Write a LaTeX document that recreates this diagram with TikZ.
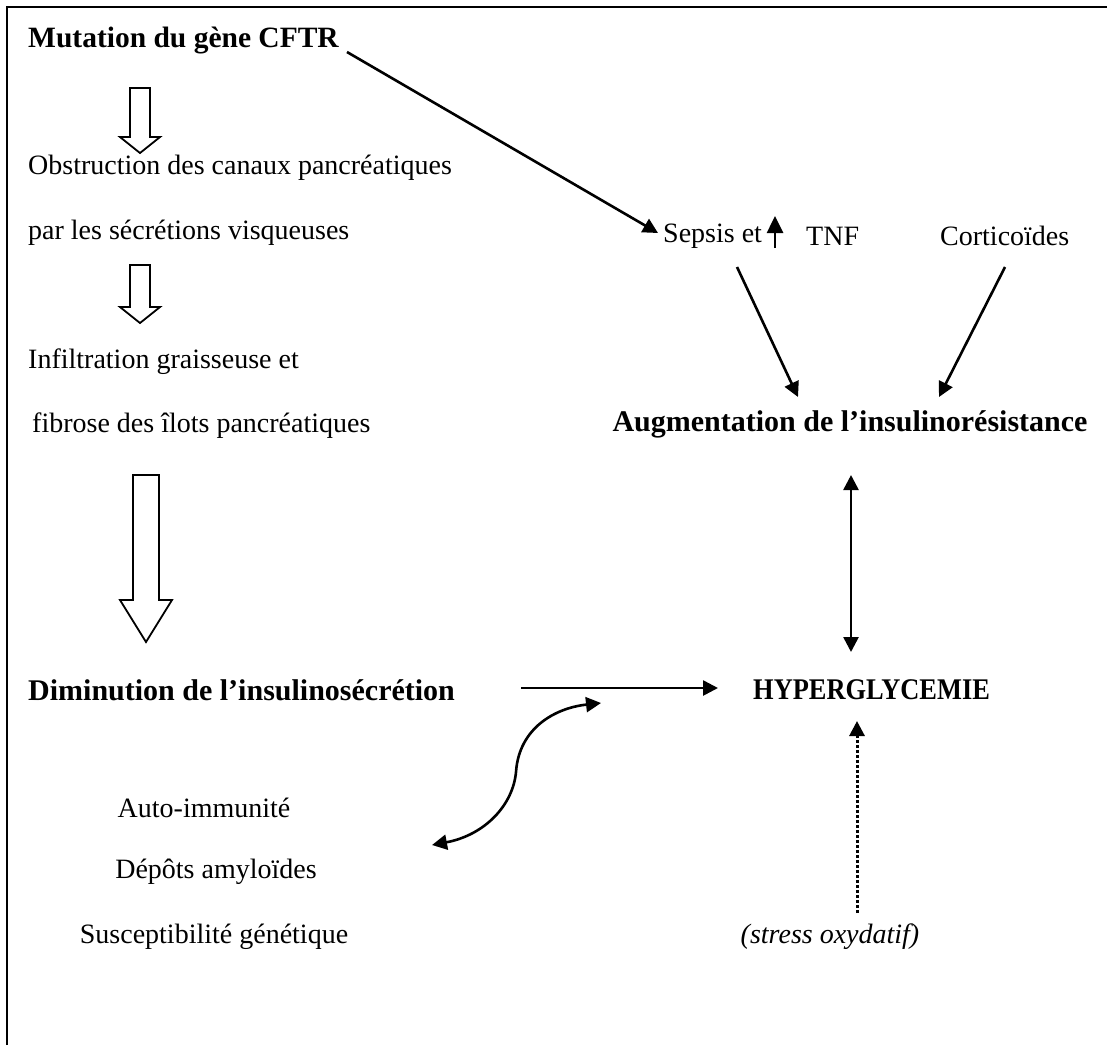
\documentclass[tikz,border=0pt]{standalone}
\usepackage{fontspec}
\setmainfont{Liberation Serif}
\usetikzlibrary{arrows.meta}
\begin{document}
\begin{tikzpicture}[x=1pt,y=-1pt,
  txt/.style={inner sep=0pt,font=\fontsize{28}{32}\selectfont},
  btxt/.style={inner sep=0pt,font=\fontsize{30}{34}\selectfont\bfseries},
  conn/.style={line width=2.6pt,-{Triangle[length=15pt,width=15pt]}},
  dconn/.style={line width=2.6pt,{Triangle[length=15pt,width=15pt]}-{Triangle[length=15pt,width=15pt]}},
  hollow/.style={draw,line width=1.8pt,fill=white,line join=miter}]
\useasboundingbox (0,0) rectangle (1107,1045);
\draw[line width=2.2pt] (7,1045) -- (7,7) -- (1107,7);

% left column
\node[btxt,anchor=west,font=\fontsize{29.5}{34}\selectfont\bfseries] (cftr) at (28,41) {Mutation du gène CFTR};
\node[txt,anchor=west] (obs1) at (28,168) {Obstruction des canaux pancréatiques};
\node[txt,anchor=west] (obs2) at (28,233) {par les sécrétions visqueuses};
\node[txt,anchor=west] (inf1) at (28,362) {Infiltration graisseuse et};
\node[txt,anchor=west] (inf2) at (32,426) {fibrose des îlots pancréatiques};
\node[btxt,anchor=west] (dim) at (28,690) {Diminution de l’insulinosécrétion};

% hollow arrows
\draw[hollow] (130,88) -- (150,88) -- (150,137) -- (160,137) -- (140,153) -- (120,137) -- (130,137) -- cycle;
\draw[hollow] (130,265) -- (150,265) -- (150,307) -- (160,307) -- (140,323) -- (120,307) -- (130,307) -- cycle;
\draw[hollow] (133,475) -- (159,475) -- (159,600) -- (172,600) -- (146,642) -- (120,600) -- (133,600) -- cycle;

% right column
\node[txt,anchor=west] (sepsis) at (663,236) {Sepsis et};
\node[txt,anchor=west] (tnf) at (806,236) {TNF};
\node[txt,anchor=west] (cort) at (940,236) {Corticoïdes};
\node[btxt] (aug) at (850,424) {Augmentation de l’insulinorésistance};
\node[btxt,anchor=west] (hyp) at (753,690) {\scalebox{0.88}[1]{HYPERGLYCEMIE}};

\node[txt] (auto) at (204,808) {Auto-immunité};
\node[txt] (depots) at (216,872) {Dépôts amyloïdes};
\node[txt] (susc) at (214,937) {Susceptibilité génétique};
\node[txt,font=\fontsize{28}{32}\selectfont\itshape] (stress) at (830,937) {(stress oxydatif)};

% connectors
\coordinate (c1) at (347,52);
\coordinate (c2) at (658,233);
\draw[conn] (c1) -- (c2);
\coordinate (up1) at (775,248);
\coordinate (up2) at (775,216);
\draw[line width=2.6pt,-{Triangle[length=17pt,width=16pt]}] (up1) -- (up2);
\coordinate (s1) at (737,267);
\coordinate (s2) at (798,397);
\draw[conn] (s1) -- (s2);
\coordinate (k1) at (1005,267);
\coordinate (k2) at (939,397);
\draw[conn] (k1) -- (k2);
\coordinate (v1) at (851,475);
\coordinate (v2) at (851,652);
\draw[dconn] (v1) -- (v2);
\coordinate (h1) at (521,688);
\coordinate (h2) at (718,688);
\draw[conn] (h1) -- (h2);
\coordinate (q1) at (432,845);
\coordinate (q2) at (601,703);
\draw[dconn] (q1) .. controls (485,835) and (513,805) .. (516,772) .. controls (519,728) and (555,708) .. (q2);
\coordinate (d1) at (857,913);
\coordinate (d2) at (857,721);
\draw[line width=3pt,dash pattern=on 3pt off 2pt,-{Triangle[length=15pt,width=15pt]}] (d1) -- (d2);
\end{tikzpicture}
\end{document}
